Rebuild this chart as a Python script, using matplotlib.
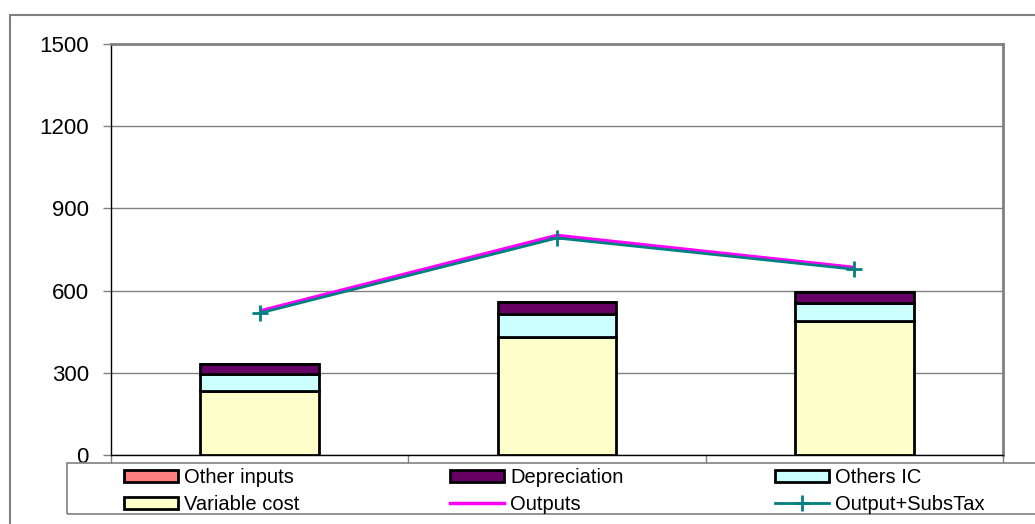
import matplotlib
matplotlib.use("Agg")
import matplotlib.pyplot as plt
from matplotlib.patches import Rectangle, Patch
from matplotlib.lines import Line2D
import numpy as np

plt.rcParams['font.family'] = ['Liberation Sans', 'DejaVu Sans']

categories = ["A", "B", "C"]
other_inputs = [0, 0, 0]
variable_cost = [235, 430, 488]
others_ic = [59, 83, 65]
depreciation = [37, 46, 41]
outputs = [524, 800, 683]
output_subs_tax = [518, 792, 678]
yticks = [0, 300, 600, 900, 1200, 1500]

c_other = "#FF8080"
c_dep = "#660066"
c_ic = "#CCFFFF"
c_var = "#FFFFCC"
c_out = "#FF00FF"
c_ost = "#008080"

W, H = 1035, 524
fig = plt.figure(figsize=(W / 100, H / 100), dpi=100)
ax = fig.add_axes([111 / W, 1 - 455 / H, (1003 - 111) / W, (455 - 44) / H])

x = np.arange(len(categories))
bw = 0.4
b_var = np.array(variable_cost)
b_ic = b_var + np.array(others_ic)
b_dep = b_ic + np.array(depreciation)
kw = dict(width=bw, edgecolor="black", linewidth=2, zorder=3)
ax.bar(x, variable_cost, color=c_var, **kw)
ax.bar(x, others_ic, bottom=b_var, color=c_ic, **kw)
ax.bar(x, depreciation, bottom=b_ic, color=c_dep, **kw)
ax.bar(x, other_inputs, bottom=b_dep, color=c_other, **kw)

ax.plot(x, outputs, color=c_out, lw=3, zorder=4, solid_capstyle="butt")
ax.plot(x, output_subs_tax, color=c_ost, lw=2, marker="+", ms=12, mew=2, zorder=5)

ax.set_xlim(-0.5, 2.5)
ax.set_ylim(0, 1500)
ax.set_yticks(yticks)
ax.set_yticklabels([str(v) for v in yticks], fontsize=16)
ax.tick_params(axis="y", direction="out", length=6, width=1, color="#808080", pad=10)
ax.set_xticks([-0.5, 0.5, 1.5, 2.5])
ax.set_xticklabels([])
ax.tick_params(axis="x", direction="out", length=6, width=1, color="#808080")
ax.grid(axis="y", color="#808080", lw=1, zorder=0)
ax.set_axisbelow(True)
for s in ["top", "right"]:
    ax.spines[s].set_color("#808080")
    ax.spines[s].set_linewidth(2)
for s in ["left", "bottom"]:
    ax.spines[s].set_color("black")
    ax.spines[s].set_linewidth(1)

# outer chart frame
fig.patches.append(Rectangle((10 / W, -0.1), 1.2, 1 - 15 / H + 0.1, transform=fig.transFigure,
                             fill=False, edgecolor="#808080", lw=1.5))
# legend box
fig.patches.append(Rectangle((67 / W, 1 - 514 / H), 1.2, 51 / H, transform=fig.transFigure,
                             fill=False, edgecolor="#808080", lw=1.2))

def ph(c):
    return Patch(facecolor=c, edgecolor="black", linewidth=2)

cols = [
    ([ph(c_other), ph(c_var)], ["Other inputs", "Variable cost"], 124),
    ([ph(c_dep), Line2D([], [], color=c_out, lw=2.5)], ["Depreciation", "Outputs"], 450),
    ([ph(c_ic), Line2D([], [], color=c_ost, lw=2, marker="+", ms=12, mew=2)],
     ["Others IC", "Output+SubsTax"], 775),
]
for handles, labels, x0 in cols:
    lg = fig.legend(handles, labels, loc="upper left",
                    bbox_to_anchor=(x0 / W, 1 - 468 / H), bbox_transform=fig.transFigure,
                    frameon=False, fontsize=14.5, handlelength=2.7, handleheight=0.6,
                    handletextpad=0.3, labelspacing=0.4, borderpad=0, borderaxespad=0)

fig.savefig("out.png", dpi=100, facecolor="white")
